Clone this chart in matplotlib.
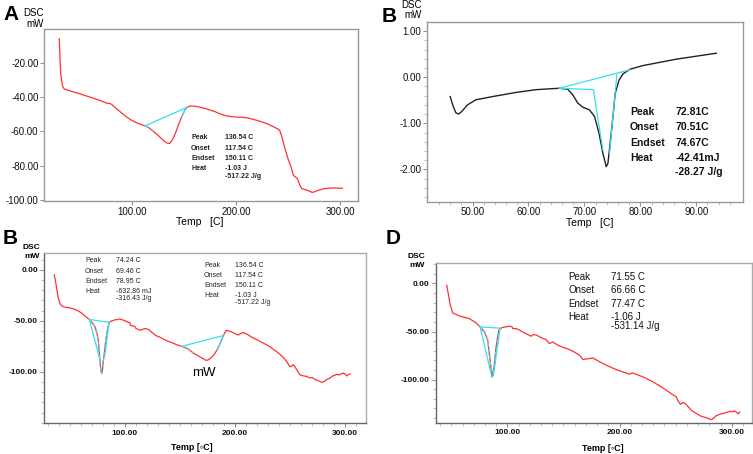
import numpy as np
import matplotlib
matplotlib.use("Agg")
import matplotlib.pyplot as plt

plt.rcParams['font.family'] = ['Liberation Sans', 'DejaVu Sans']

# ---------------- Panel A data ----------------
a_temp = [30.6, 31, 31.5, 32, 33, 34, 35.5, 40, 50, 60, 70, 76, 79, 81, 85, 90, 95, 100, 105, 110, 113,
          117, 120, 125, 130, 134, 136.5, 139, 142, 145, 148, 151, 153, 156, 160, 165, 170, 175, 180, 185,
          190, 195, 200, 205, 210, 215, 220, 225, 230, 235, 240, 242, 244, 247, 250, 253, 255, 257, 259,
          261, 263, 266, 270, 273, 276, 280, 285, 290, 295, 300, 302]
a_mw = [-6, -12, -20, -26, -31, -34, -35.3, -36.2, -38, -40, -42, -43.5, -43.7, -44.3, -46.5, -49, -51.5,
        -53.5, -55, -56.2, -56.7, -58, -59.5, -62, -65, -66.8, -67, -65, -61, -56, -51.5, -47.5, -46,
        -45.2, -45.2, -45.8, -46.5, -47.5, -48.5, -49.8, -50.8, -51.3, -51.6, -51.7, -52, -52.7, -53.5,
        -54.5, -55.5, -57, -58.5, -59.5, -63, -70, -76, -81, -85.5, -86.5, -87.5, -91, -93.2, -93.8,
        -94.6, -95.5, -95, -94, -93.3, -93, -92.9, -93.1, -93.1]
a_base_t = [113, 153]
a_base_mw = [-56.7, -46]
a_labels = ["Peak", "Onset", "Endset", "Heat", ""]
a_values = ["136.54 C", "117.54 C", "150.11 C", "-1.03 J", "-517.22 J/g"]

# ---------------- Panel B (top right) data ----------------
b_temp = [46, 46.5, 47.0, 47.5, 48.1, 49.1, 50.6, 53.6, 57.8, 61.4, 65.5, 67, 67.9, 68.8, 69.7, 70.9,
          71.8, 72.6, 73.3, 73.9, 74.2, 74.6, 75.1, 75.5, 76.2, 76.9, 78.1, 80.4, 86.4, 93.6]
b_mw = [-0.42, -0.62, -0.77, -0.80, -0.74, -0.60, -0.49, -0.42, -0.33, -0.27, -0.24, -0.26, -0.38, -0.56,
        -0.65, -0.71, -0.85, -1.21, -1.65, -1.94, -1.87, -1.43, -0.85, -0.35, -0.06, 0.07, 0.17, 0.25,
        0.39, 0.52]
b_base_t = [65.5, 78.1]
b_base_mw = [-0.24, 0.16]
b_step_t = [65.5, 71.6, 73.3]
b_step_mw = [-0.24, -0.27, -1.58]
b_right_t = [75.8, 74.5]
b_right_mw = [0.05, -1.65]
b_labels = ["Peak", "Onset", "Endset", "Heat", ""]
b_values = ["72.81C", "70.51C", "74.67C", "-42.41mJ", "-28.27 J/g"]

# ---------------- Panel C (bottom left) data ----------------
c_temp = [35.7, 37, 38.5, 39.4, 41, 42.5, 45, 49, 53, 57, 60, 62.1, 65, 67.6, 70, 72.7, 74.5, 75.8, 76.6,
          77.3, 78.2, 78.8, 79.5, 80.2, 80.9, 81.8, 83.3, 84.5, 85.8, 87, 89, 91, 93, 95, 97, 99, 101, 103,
          104.5, 105, 107, 109, 110, 112, 114, 116, 118, 120, 122, 124, 126, 128, 131.8, 135, 138, 141, 144,
          147, 151.5, 155, 158, 162, 166, 170, 173, 175, 178, 181, 184, 187, 189.4, 191.8, 194, 196, 198.5,
          201, 203, 205, 207.5, 210, 213, 216.7, 220, 224, 228.8, 232, 235, 237.9, 241, 244, 247, 249, 250,
          251.5, 253, 255, 257, 259.1, 262, 265, 268, 270, 272, 275, 278.8, 281, 283, 286.4, 289, 292.4,
          295, 297, 298.5, 300, 301.5, 303, 304.5]
c_mw = [-4.9, -12, -22, -28, -33, -35.4, -36.5, -37.2, -38.2, -40, -42, -43.8, -46.5, -48.7, -51.5, -55.8,
        -62, -70, -80, -90, -99, -101.5, -99, -90, -85, -76, -64, -56, -52, -50.5, -49.8, -49, -48.8, -48.2,
        -48.8, -49.5, -50.5, -51.5, -51.8, -54.5, -55, -55.5, -57.5, -58.5, -59.2, -58.5, -57.5, -58, -58.8,
        -61, -62.5, -64.5, -66, -68, -69.5, -70.8, -72, -73.5, -75, -76.5, -78, -81.5, -84, -86.5, -88.5,
        -88.7, -86.5, -83, -78, -71, -64.5, -59.5, -59.8, -60.5, -61.7, -63, -64, -62.5, -61.5, -62.5,
        -64.5, -67, -68.5, -71, -73.5, -75.5, -78, -80.2, -83, -86, -90, -93.5, -95, -94.5, -93, -96, -99.5,
        -103, -104, -104.5, -106, -105.5, -107, -108.5, -110.3, -109.5, -108, -106, -104, -102.5, -103,
        -101.8, -101.3, -102, -104, -102.8, -102]
c_base1_t = [67.6, 85.5]
c_base1_mw = [-48.7, -51.5]
c_tan1_t = [67.6, 77.3, None, 85.5, 81.8]
c_tan1_mw = [-48.7, -88.3, None, -51.5, -83.4]
c_base2_t = [151.5, 189.4]
c_base2_mw = [-75, -64.5]
c_labels = ["Peak", "Onset", "Endset", "Heat", ""]
c_values1 = ["74.24 C", "69.46 C", "78.95 C", "-632.86 mJ", "-316.43 J/g"]
c_values2 = ["136.54 C", "117.54 C", "150.11 C", "-1.03 J", "-517.22 J/g"]

# ---------------- Panel D data ----------------
d_temp = [45.9, 47.5, 48.8, 51.2, 57.1, 66.1, 72.1, 75.6, 79.5, 82.5, 84.6, 86.3, 88.1, 89.9, 92.3, 95.3,
          101.8, 104, 105, 107.8, 111, 113, 115.2, 118, 121.2, 123, 125.6, 128, 131.6, 134, 137.5, 140.5,
          142, 145, 150, 155.4, 160, 164.3, 166, 167.3, 170, 173.2, 176.3, 180, 185.2, 190, 197.1, 203,
          208.9, 211, 213.4, 217, 220.9, 225, 229.8, 235, 241.7, 246, 250.6, 252, 254.2, 256, 258, 261,
          264, 268, 272.9, 277, 281.9, 284, 286, 289.3, 293, 298.2, 300, 302.7, 305.7, 307.1]
d_mw = [-1.7, -12, -20.8, -30.6, -33.7, -36.5, -41, -45.1, -50.3, -59, -79.9, -97.2, -86.8, -66, -48.6,
        -45.8, -44.4, -45, -47, -46.9, -48.5, -50, -51.4, -53, -54.9, -53.2, -53.5, -55, -57.3, -58,
        -62.5, -60.8, -62, -64.2, -66.5, -68.8, -71.5, -74.7, -77, -79.2, -78.5, -78.1, -77.4, -80,
        -83.3, -86, -89.6, -92, -94.4, -93, -93.8, -95.5, -97.2, -99.5, -102.4, -106, -111.1, -114.5,
        -118, -122, -125.7, -124, -124.3, -128, -132, -135, -138.2, -139.5, -141.7, -140, -137.5, -136.1,
        -135, -133, -133.5, -132.6, -135.4, -133.7]
d_base_t = [75.6, 93.5]
d_base_mw = [-45.1, -46.5]
d_tan_t = [75.6, 85.4, None, 93.5, 87.5]
d_tan_mw = [-45.1, -93.4, None, -46.5, -96]
d_labels = ["Peak", "Onset", "Endset", "Heat", ""]
d_values = ["71.55 C", "66.66 C", "77.47 C", "-1.06 J", "-531.14 J/g"]

W, H = 753, 454
fig = plt.figure(figsize=(W / 100, H / 100), dpi=100)

RED = '#ff3030'
CYAN = '#33e0f0'


def add_axes(left, right, top, bottom):
    return fig.add_axes([left / W, 1 - bottom / H, (right - left) / W, (bottom - top) / H])


def fig_text(x, y, s, **kw):
    fig.text(x / W, 1 - y / H, s, **kw)


def style_axes(ax, spine_main, spine_other, labelsize, bold, pad=1.5):
    for side in ['left', 'bottom']:
        ax.spines[side].set_color(spine_main)
        ax.spines[side].set_linewidth(1.0)
    for side in ['top', 'right']:
        ax.spines[side].set_color(spine_other)
        ax.spines[side].set_linewidth(1.0)
    ax.tick_params(which='major', direction='out', length=3, width=0.6, colors='#777777',
                   labelcolor='#111111', labelsize=labelsize, pad=pad)
    ax.tick_params(which='minor', direction='out', length=2, width=0.5, colors='#aaaaaa')
    if bold:
        for lab in ax.get_xticklabels() + ax.get_yticklabels():
            lab.set_fontweight('bold')


def fmt2(v, pos=None):
    return f"{v:.2f}"


# ---------------- Panel A ----------------
axA = add_axes(44, 358, 29.3, 201)
axA.plot(a_temp, a_mw, color=RED, lw=0.9)
axA.plot(a_base_t, a_base_mw, color=CYAN, lw=0.9)
ta = np.array(a_temp); ma = np.array(a_mw)
mA1 = (ta >= 113) & (ta <= 124)
mA2 = (ta >= 146) & (ta <= 153)
axA.plot(ta[mA1], ma[mA1], color=CYAN, lw=0.9, ls=(0, (3, 3)))
axA.plot(ta[mA2], ma[mA2], color=CYAN, lw=0.9)
axA.set_xlim(16, 317)
axA.set_ylim(-100.5, -0.5)
axA.set_xticks([100, 200, 300])
axA.set_yticks([-20, -40, -60, -80, -100])
axA.xaxis.set_major_formatter(plt.FuncFormatter(fmt2))
axA.yaxis.set_major_formatter(plt.FuncFormatter(fmt2))
style_axes(axA, '#999999', '#999999', 7, False, pad=1)
for i, (l, v) in enumerate(zip(a_labels, a_values)):
    yy = [137.3, 148, 158.7, 169, 176.7][i]
    fig_text(191, yy, l, fontsize=5, fontweight='bold', va='center', color='#222222')
    fig_text(225, yy, v, fontsize=5, fontweight='bold', va='center', color='#222222')
fig_text(3, 15, "A", fontsize=15, fontweight='bold', va='center')
fig_text(44, 12.7, "DSC", fontsize=7, va='center', ha='right')
fig_text(44, 24, "mW", fontsize=7, va='center', ha='right')
fig_text(200, 222, "Temp   [C]", fontsize=7.5, va='center', ha='center')

# ---------------- Panel B (top right) ----------------
axB = add_axes(426.7, 742.7, 22.3, 201.7)
axB.plot(b_temp, b_mw, color='#222222', lw=1.0)
axB.plot(b_base_t, b_base_mw, color=CYAN, lw=0.9)
axB.plot(b_step_t, b_step_mw, color=CYAN, lw=0.9)
axB.plot(b_right_t, b_right_mw, color=CYAN, lw=0.9)
axB.set_xlim(41.8, 98.3)
axB.set_ylim(-2.70, 1.19)
axB.set_xticks([50, 60, 70, 80, 90])
axB.set_xticks(np.arange(44, 98, 2), minor=True)
axB.set_yticks([1, 0, -1, -2])
axB.set_yticks(np.arange(-2.6, 1.2, 0.2), minor=True)
axB.xaxis.set_major_formatter(plt.FuncFormatter(fmt2))
axB.yaxis.set_major_formatter(plt.FuncFormatter(fmt2))
style_axes(axB, '#999999', '#999999', 7, False, pad=1)
for i, (l, v) in enumerate(zip(b_labels, b_values)):
    yy = [111.7, 127.3, 142.7, 157.7, 172.3][i]
    fig_text(630, yy, l, fontsize=7.5, fontweight='bold', va='center', color='#111111')
    fig_text(675.3, yy, v, fontsize=7.5, fontweight='bold', va='center', color='#111111')
fig_text(382, 16.7, "B", fontsize=15, fontweight='bold', va='center')
fig_text(422, 4.5, "DSC", fontsize=7, va='center', ha='right')
fig_text(422, 15.5, "mW", fontsize=7, va='center', ha='right')
fig_text(589.3, 223, "Temp   [C]", fontsize=7.5, va='center', ha='center')

# ---------------- Panel C (bottom left) ----------------
axC = add_axes(44, 365.7, 253, 423.3)
tc = np.array(c_temp); mc = np.array(c_mw)
axC.plot(tc, mc, color=RED, lw=0.9)
axC.plot(c_base1_t, c_base1_mw, color=CYAN, lw=0.9)
axC.plot(c_tan1_t, c_tan1_mw, color=CYAN, lw=0.9)
mC1 = (tc >= 67.6) & (tc <= 85.8)
axC.plot(tc[mC1], mc[mC1], color=CYAN, lw=0.9, ls=(0, (2.5, 2.5)))
axC.plot(c_base2_t, c_base2_mw, color=CYAN, lw=0.9)
mC2 = (tc >= 151.5) & (tc <= 162)
mC3 = (tc >= 184) & (tc <= 189.4)
axC.plot(tc[mC2], mc[mC2], color=CYAN, lw=0.9, ls=(0, (2.5, 2.5)))
axC.plot(tc[mC3], mc[mC3], color=CYAN, lw=0.9)
axC.set_xlim(26.4, 318.8)
axC.set_ylim(-150.5, 16.5)
axC.set_xticks([100, 200, 300])
axC.set_xticks(np.arange(30, 316, 10), minor=True)
axC.set_yticks([0, -50, -100])
axC.set_yticks(np.arange(-150, 16, 10), minor=True)
axC.xaxis.set_major_formatter(plt.FuncFormatter(fmt2))
axC.yaxis.set_major_formatter(plt.FuncFormatter(fmt2))
style_axes(axC, '#666666', '#aaaaaa', 6, True)
for i, (l, v) in enumerate(zip(c_labels, c_values1)):
    yy = [261, 271.3, 281.3, 291.7, 298.7][i]
    fig_text(85, yy, l, fontsize=5, va='center', color='#222222')
    fig_text(116, yy, v, fontsize=5, va='center', color='#222222')
for i, (l, v) in enumerate(zip(c_labels, c_values2)):
    yy = [265.3, 275.3, 285.3, 295.7, 303][i]
    fig_text(204, yy, l, fontsize=5, va='center', color='#222222')
    fig_text(235.3, yy, v, fontsize=5, va='center', color='#222222')
fig_text(204, 372.7, "mW", fontsize=9.5, va='center', ha='center')
fig_text(3, 238.7, "B", fontsize=15, fontweight='bold', va='center')
fig_text(40, 247.7, "DSC", fontsize=6, fontweight='bold', va='center', ha='right')
fig_text(40, 257, "mW", fontsize=6, fontweight='bold', va='center', ha='right')
fig_text(191.7, 448, "Temp [\u25e6C]", fontsize=6.5, fontweight='bold', va='center', ha='center')

# ---------------- Panel D ----------------
axD = add_axes(435.7, 752, 263.3, 422.7)
td = np.array(d_temp); md = np.array(d_mw)
axD.plot(td, md, color=RED, lw=0.9)
axD.plot(d_base_t, d_base_mw, color=CYAN, lw=0.9)
axD.plot(d_tan_t, d_tan_mw, color=CYAN, lw=0.9)
mD1 = (td >= 75.6) & (td <= 92.3)
axD.plot(td[mD1], md[mD1], color=CYAN, lw=0.9, ls=(0, (2.5, 2.5)))
axD.set_xlim(36.1, 318)
axD.set_ylim(-144.8, 21)
axD.set_xticks([100, 200, 300])
axD.set_xticks(np.arange(40, 316, 10), minor=True)
axD.set_yticks([0, -50, -100])
axD.set_yticks(np.arange(-140, 21, 10), minor=True)
axD.xaxis.set_major_formatter(plt.FuncFormatter(fmt2))
axD.yaxis.set_major_formatter(plt.FuncFormatter(fmt2))
style_axes(axD, '#666666', '#aaaaaa', 6, True)
for i, (l, v) in enumerate(zip(d_labels, d_values)):
    yy = [277, 290.3, 303.7, 317, 326.3][i]
    fig_text(568.7, yy, l, fontsize=7, va='center', color='#111111')
    fig_text(611.3, yy, v, fontsize=7, va='center', color='#111111')
fig_text(386, 238.7, "D", fontsize=15, fontweight='bold', va='center')
fig_text(425, 256.3, "DSC", fontsize=6, fontweight='bold', va='center', ha='right')
fig_text(425, 265.3, "mW", fontsize=6, fontweight='bold', va='center', ha='right')
fig_text(602.7, 448.7, "Temp [\u25e6C]", fontsize=6.5, fontweight='bold', va='center', ha='center')

fig.savefig("out.png", dpi=100)
